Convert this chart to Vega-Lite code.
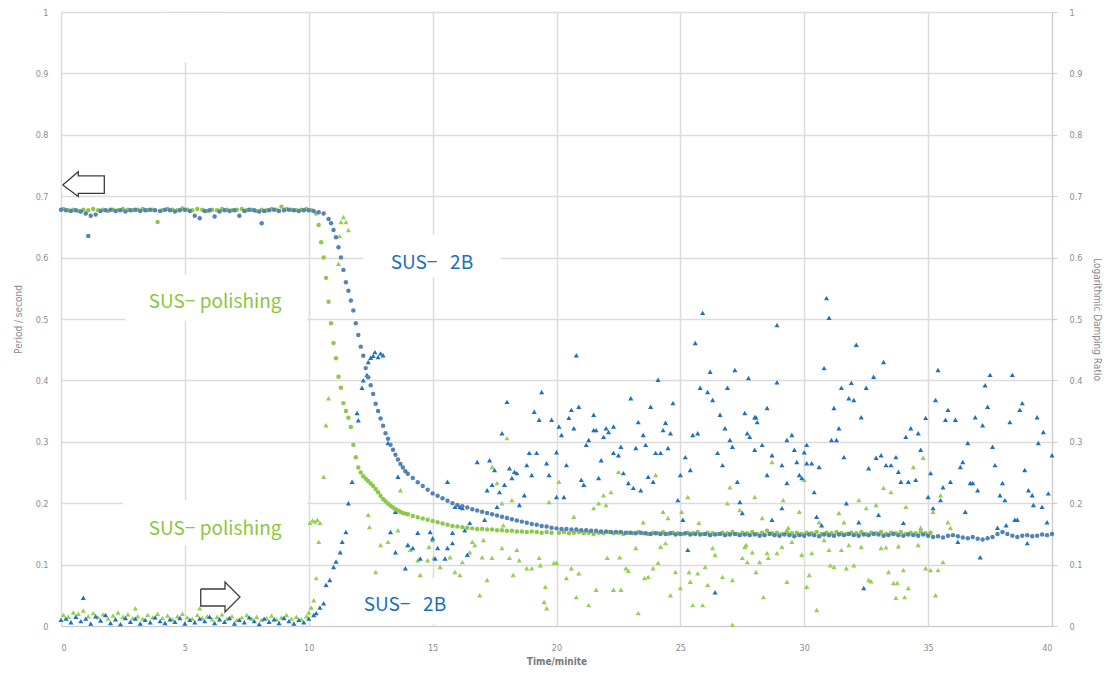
{
"$schema":"https://vega.github.io/schema/vega-lite/v6.json",
"width":991,"height":614,
"autosize":{"type":"none"},
"padding":{"left":61,"top":12,"right":55,"bottom":51},
"background":"white",
"config":{"view":{"stroke":null},"font":"Liberation Sans Narrow, DejaVu Sans Condensed, sans-serif",
"axis":{"labelColor":"#8c8c8c","titleColor":"#8c8c8c","labelFontSize":9,"titleFontSize":10,"titleFontWeight":"normal","gridColor":"#dcdcdc","gridWidth":1.5,"domainColor":"#cccccc","tickColor":"#cccccc"}},
"datasets":{
"p2b":[{"x":0,"y":0.678},{"x":0.2,"y":0.677},{"x":0.4,"y":0.676},{"x":0.6,"y":0.677},{"x":0.8,"y":0.675},{"x":1.0,"y":0.672},{"x":1.1,"y":0.635},{"x":1.2,"y":0.668},{"x":1.4,"y":0.670},{"x":1.6,"y":0.676},{"x":1.8,"y":0.677},{"x":2.0,"y":0.678},{"x":2.2,"y":0.676},{"x":2.4,"y":0.677},{"x":2.6,"y":0.675},{"x":2.8,"y":0.677},{"x":3.0,"y":0.678},{"x":3.2,"y":0.676},{"x":3.4,"y":0.677},{"x":3.6,"y":0.678},{"x":3.8,"y":0.677},{"x":4.0,"y":0.676},{"x":4.2,"y":0.678},{"x":4.4,"y":0.677},{"x":4.6,"y":0.675},{"x":4.8,"y":0.677},{"x":5.0,"y":0.678},{"x":5.2,"y":0.676},{"x":5.4,"y":0.668},{"x":5.6,"y":0.664},{"x":5.8,"y":0.676},{"x":6.0,"y":0.677},{"x":6.2,"y":0.667},{"x":6.4,"y":0.675},{"x":6.6,"y":0.677},{"x":6.8,"y":0.676},{"x":7.0,"y":0.677},{"x":7.2,"y":0.668},{"x":7.4,"y":0.676},{"x":7.6,"y":0.678},{"x":7.8,"y":0.677},{"x":8.0,"y":0.675},{"x":8.1,"y":0.656},{"x":8.2,"y":0.676},{"x":8.4,"y":0.677},{"x":8.6,"y":0.678},{"x":8.8,"y":0.676},{"x":9.0,"y":0.677},{"x":9.2,"y":0.678},{"x":9.4,"y":0.677},{"x":9.6,"y":0.676},{"x":9.8,"y":0.677},{"x":10.0,"y":0.677},{"x":10.2,"y":0.676},{"x":10.4,"y":0.674},{"x":10.6,"y":0.672},{"x":10.8,"y":0.663},{"x":10.9,"y":0.656},{"x":11.0,"y":0.645},{"x":11.1,"y":0.633},{"x":11.2,"y":0.617},{"x":11.3,"y":0.6},{"x":11.4,"y":0.58},{"x":11.5,"y":0.56},{"x":11.6,"y":0.546},{"x":11.7,"y":0.53},{"x":11.8,"y":0.514},{"x":11.9,"y":0.493},{"x":12.0,"y":0.474},{"x":12.1,"y":0.455},{"x":12.2,"y":0.44},{"x":12.3,"y":0.42},{"x":12.4,"y":0.405},{"x":12.5,"y":0.392},{"x":12.6,"y":0.378},{"x":12.7,"y":0.362},{"x":12.8,"y":0.35},{"x":12.9,"y":0.338},{"x":13.0,"y":0.326},{"x":13.1,"y":0.314},{"x":13.2,"y":0.305},{"x":13.3,"y":0.295},{"x":13.4,"y":0.287},{"x":13.5,"y":0.279},{"x":13.6,"y":0.271},{"x":13.7,"y":0.264},{"x":13.8,"y":0.258},{"x":13.9,"y":0.252},{"x":14.0,"y":0.248},{"x":14.2,"y":0.241},{"x":14.4,"y":0.234},{"x":14.6,"y":0.228},{"x":14.8,"y":0.222},{"x":15.0,"y":0.216},{"x":15.2,"y":0.212},{"x":15.4,"y":0.208},{"x":15.6,"y":0.204},{"x":15.8,"y":0.2},{"x":16.0,"y":0.197},{"x":16.2,"y":0.195},{"x":16.4,"y":0.193},{"x":16.6,"y":0.19},{"x":16.8,"y":0.188},{"x":17.0,"y":0.186},{"x":17.2,"y":0.184},{"x":17.4,"y":0.182},{"x":17.6,"y":0.18},{"x":17.8,"y":0.178},{"x":18.0,"y":0.176},{"x":18.2,"y":0.174},{"x":18.4,"y":0.172},{"x":18.6,"y":0.17},{"x":18.8,"y":0.168},{"x":19.0,"y":0.166},{"x":19.2,"y":0.165},{"x":19.4,"y":0.163},{"x":19.6,"y":0.162},{"x":19.8,"y":0.16},{"x":20.0,"y":0.159},{"x":20.2,"y":0.158},{"x":20.4,"y":0.158},{"x":20.6,"y":0.157},{"x":20.8,"y":0.157},{"x":21.0,"y":0.156},{"x":21.2,"y":0.156},{"x":21.4,"y":0.155},{"x":21.6,"y":0.155},{"x":21.8,"y":0.154},{"x":22.0,"y":0.154},{"x":22.2,"y":0.153},{"x":22.4,"y":0.153},{"x":22.6,"y":0.153},{"x":22.8,"y":0.152},{"x":23.0,"y":0.152},{"x":23.2,"y":0.151},{"x":23.4,"y":0.152},{"x":23.6,"y":0.151},{"x":23.8,"y":0.150},{"x":24.0,"y":0.151},{"x":24.2,"y":0.150},{"x":24.4,"y":0.150},{"x":24.6,"y":0.151},{"x":24.8,"y":0.149},{"x":25.0,"y":0.150},{"x":25.2,"y":0.151},{"x":25.4,"y":0.149},{"x":25.6,"y":0.150},{"x":25.8,"y":0.149},{"x":26.0,"y":0.150},{"x":26.2,"y":0.148},{"x":26.4,"y":0.149},{"x":26.6,"y":0.150},{"x":26.8,"y":0.148},{"x":27.0,"y":0.149},{"x":27.2,"y":0.150},{"x":27.4,"y":0.148},{"x":27.6,"y":0.149},{"x":27.8,"y":0.148},{"x":28.0,"y":0.149},{"x":28.2,"y":0.147},{"x":28.4,"y":0.148},{"x":28.6,"y":0.150},{"x":28.8,"y":0.148},{"x":29.0,"y":0.147},{"x":29.2,"y":0.149},{"x":29.4,"y":0.148},{"x":29.6,"y":0.146},{"x":29.8,"y":0.148},{"x":30.0,"y":0.147},{"x":30.2,"y":0.149},{"x":30.4,"y":0.148},{"x":30.6,"y":0.146},{"x":30.8,"y":0.149},{"x":31.0,"y":0.148},{"x":31.2,"y":0.147},{"x":31.4,"y":0.149},{"x":31.6,"y":0.148},{"x":31.8,"y":0.150},{"x":32.0,"y":0.148},{"x":32.2,"y":0.147},{"x":32.4,"y":0.149},{"x":32.6,"y":0.148},{"x":32.8,"y":0.150},{"x":33.0,"y":0.149},{"x":33.2,"y":0.147},{"x":33.4,"y":0.148},{"x":33.6,"y":0.150},{"x":33.8,"y":0.148},{"x":34.0,"y":0.147},{"x":34.2,"y":0.149},{"x":34.4,"y":0.148},{"x":34.6,"y":0.147},{"x":34.8,"y":0.149},{"x":35.0,"y":0.147},{"x":35.2,"y":0.145},{"x":35.4,"y":0.146},{"x":35.6,"y":0.144},{"x":35.8,"y":0.147},{"x":36.0,"y":0.148},{"x":36.2,"y":0.146},{"x":36.4,"y":0.144},{"x":36.6,"y":0.143},{"x":36.8,"y":0.145},{"x":37.0,"y":0.142},{"x":37.2,"y":0.141},{"x":37.4,"y":0.143},{"x":37.6,"y":0.145},{"x":37.8,"y":0.150},{"x":38.0,"y":0.153},{"x":38.2,"y":0.150},{"x":38.4,"y":0.147},{"x":38.6,"y":0.145},{"x":38.8,"y":0.147},{"x":39.0,"y":0.148},{"x":39.2,"y":0.146},{"x":39.4,"y":0.147},{"x":39.6,"y":0.149},{"x":39.8,"y":0.148},{"x":40.0,"y":0.150}],
"ppol":[{"x":0.1,"y":0.679},{"x":0.3,"y":0.677},{"x":0.5,"y":0.678},{"x":0.7,"y":0.676},{"x":0.9,"y":0.678},{"x":1.1,"y":0.677},{"x":1.3,"y":0.679},{"x":1.5,"y":0.677},{"x":1.7,"y":0.678},{"x":1.9,"y":0.676},{"x":2.1,"y":0.678},{"x":2.3,"y":0.677},{"x":2.5,"y":0.679},{"x":2.7,"y":0.678},{"x":2.9,"y":0.677},{"x":3.1,"y":0.678},{"x":3.3,"y":0.679},{"x":3.5,"y":0.677},{"x":3.7,"y":0.678},{"x":3.9,"y":0.658},{"x":4.1,"y":0.677},{"x":4.3,"y":0.679},{"x":4.5,"y":0.678},{"x":4.7,"y":0.677},{"x":4.9,"y":0.680},{"x":5.1,"y":0.678},{"x":5.3,"y":0.677},{"x":5.5,"y":0.679},{"x":5.7,"y":0.678},{"x":5.9,"y":0.676},{"x":6.1,"y":0.678},{"x":6.3,"y":0.677},{"x":6.5,"y":0.679},{"x":6.7,"y":0.678},{"x":6.9,"y":0.677},{"x":7.1,"y":0.678},{"x":7.3,"y":0.679},{"x":7.5,"y":0.677},{"x":7.7,"y":0.678},{"x":7.9,"y":0.676},{"x":8.1,"y":0.678},{"x":8.3,"y":0.677},{"x":8.5,"y":0.679},{"x":8.7,"y":0.678},{"x":8.9,"y":0.683},{"x":9.1,"y":0.679},{"x":9.3,"y":0.678},{"x":9.5,"y":0.677},{"x":9.7,"y":0.678},{"x":9.9,"y":0.679},{"x":10.1,"y":0.677},{"x":10.3,"y":0.672},{"x":10.4,"y":0.653},{"x":10.5,"y":0.625},{"x":10.6,"y":0.600},{"x":10.7,"y":0.567},{"x":10.8,"y":0.528},{"x":10.9,"y":0.493},{"x":11.0,"y":0.461},{"x":11.1,"y":0.436},{"x":11.2,"y":0.406},{"x":11.3,"y":0.388},{"x":11.4,"y":0.363},{"x":11.5,"y":0.350},{"x":11.6,"y":0.339},{"x":11.7,"y":0.324},{"x":11.8,"y":0.295},{"x":11.9,"y":0.275},{"x":12.0,"y":0.258},{"x":12.1,"y":0.250},{"x":12.2,"y":0.244},{"x":12.3,"y":0.240},{"x":12.4,"y":0.236},{"x":12.5,"y":0.232},{"x":12.6,"y":0.228},{"x":12.7,"y":0.223},{"x":12.8,"y":0.218},{"x":12.9,"y":0.212},{"x":13.0,"y":0.207},{"x":13.1,"y":0.203},{"x":13.2,"y":0.199},{"x":13.3,"y":0.196},{"x":13.4,"y":0.193},{"x":13.5,"y":0.190},{"x":13.6,"y":0.188},{"x":13.7,"y":0.186},{"x":13.8,"y":0.184},{"x":13.9,"y":0.183},{"x":14.0,"y":0.182},{"x":14.2,"y":0.179},{"x":14.4,"y":0.177},{"x":14.6,"y":0.175},{"x":14.8,"y":0.173},{"x":15.0,"y":0.171},{"x":15.2,"y":0.169},{"x":15.4,"y":0.167},{"x":15.6,"y":0.165},{"x":15.8,"y":0.163},{"x":16.0,"y":0.162},{"x":16.2,"y":0.161},{"x":16.4,"y":0.160},{"x":16.6,"y":0.159},{"x":16.8,"y":0.158},{"x":17.0,"y":0.158},{"x":17.2,"y":0.157},{"x":17.4,"y":0.157},{"x":17.6,"y":0.156},{"x":17.8,"y":0.156},{"x":18.0,"y":0.155},{"x":18.2,"y":0.155},{"x":18.4,"y":0.154},{"x":18.6,"y":0.154},{"x":18.8,"y":0.153},{"x":19.0,"y":0.154},{"x":19.2,"y":0.153},{"x":19.4,"y":0.152},{"x":19.6,"y":0.153},{"x":19.8,"y":0.152},{"x":20.1,"y":0.152},{"x":20.3,"y":0.153},{"x":20.5,"y":0.151},{"x":20.7,"y":0.152},{"x":20.9,"y":0.153},{"x":21.1,"y":0.151},{"x":21.3,"y":0.152},{"x":21.5,"y":0.150},{"x":21.7,"y":0.152},{"x":21.9,"y":0.151},{"x":22.1,"y":0.153},{"x":22.3,"y":0.151},{"x":22.5,"y":0.152},{"x":22.7,"y":0.150},{"x":22.9,"y":0.152},{"x":23.1,"y":0.151},{"x":23.3,"y":0.153},{"x":23.5,"y":0.151},{"x":23.7,"y":0.150},{"x":23.9,"y":0.152},{"x":24.1,"y":0.151},{"x":24.3,"y":0.153},{"x":24.5,"y":0.150},{"x":24.7,"y":0.152},{"x":24.9,"y":0.151},{"x":25.1,"y":0.150},{"x":25.3,"y":0.152},{"x":25.5,"y":0.151},{"x":25.7,"y":0.153},{"x":25.9,"y":0.150},{"x":26.1,"y":0.152},{"x":26.3,"y":0.151},{"x":26.5,"y":0.150},{"x":26.7,"y":0.152},{"x":26.9,"y":0.151},{"x":27.1,"y":0.153},{"x":27.3,"y":0.150},{"x":27.5,"y":0.152},{"x":27.7,"y":0.151},{"x":27.9,"y":0.153},{"x":28.1,"y":0.150},{"x":28.3,"y":0.152},{"x":28.5,"y":0.155},{"x":28.7,"y":0.151},{"x":28.9,"y":0.152},{"x":29.1,"y":0.150},{"x":29.3,"y":0.153},{"x":29.5,"y":0.151},{"x":29.7,"y":0.152},{"x":29.9,"y":0.150},{"x":30.1,"y":0.152},{"x":30.3,"y":0.151},{"x":30.5,"y":0.153},{"x":30.7,"y":0.150},{"x":30.9,"y":0.152},{"x":31.1,"y":0.151},{"x":31.3,"y":0.153},{"x":31.5,"y":0.151},{"x":31.7,"y":0.150},{"x":31.9,"y":0.152},{"x":32.1,"y":0.151},{"x":32.3,"y":0.153},{"x":32.5,"y":0.150},{"x":32.7,"y":0.152},{"x":32.9,"y":0.151},{"x":33.1,"y":0.153},{"x":33.3,"y":0.150},{"x":33.5,"y":0.152},{"x":33.7,"y":0.151},{"x":33.9,"y":0.153},{"x":34.1,"y":0.150},{"x":34.3,"y":0.152},{"x":34.5,"y":0.151},{"x":34.7,"y":0.153},{"x":34.9,"y":0.151},{"x":35.1,"y":0.152}],
"d2b":[{"x":0.0,"y":0.010},{"x":0.2,"y":0.012},{"x":0.4,"y":0.006},{"x":0.6,"y":0.015},{"x":0.8,"y":0.008},{"x":0.9,"y":0.046},{"x":1.0,"y":0.012},{"x":1.2,"y":0.004},{"x":1.4,"y":0.016},{"x":1.6,"y":0.009},{"x":1.8,"y":0.018},{"x":2.0,"y":0.005},{"x":2.2,"y":0.011},{"x":2.4,"y":0.003},{"x":2.6,"y":0.013},{"x":2.8,"y":0.007},{"x":3.0,"y":0.012},{"x":3.2,"y":0.004},{"x":3.4,"y":0.010},{"x":3.6,"y":0.006},{"x":3.8,"y":0.014},{"x":4.0,"y":0.008},{"x":4.2,"y":0.005},{"x":4.4,"y":0.011},{"x":4.6,"y":0.007},{"x":4.8,"y":0.013},{"x":5.0,"y":0.004},{"x":5.2,"y":0.010},{"x":5.4,"y":0.006},{"x":5.6,"y":0.012},{"x":5.8,"y":0.008},{"x":6.0,"y":0.015},{"x":6.2,"y":0.005},{"x":6.4,"y":0.011},{"x":6.6,"y":0.007},{"x":6.8,"y":0.013},{"x":7.0,"y":0.004},{"x":7.2,"y":0.010},{"x":7.4,"y":0.006},{"x":7.6,"y":0.014},{"x":7.8,"y":0.008},{"x":8.0,"y":0.003},{"x":8.2,"y":0.012},{"x":8.4,"y":0.007},{"x":8.6,"y":0.011},{"x":8.8,"y":0.005},{"x":9.0,"y":0.013},{"x":9.2,"y":0.008},{"x":9.4,"y":0.004},{"x":9.6,"y":0.010},{"x":9.8,"y":0.006},{"x":10.0,"y":0.012},{"x":10.2,"y":0.018},{"x":10.3,"y":0.021},{"x":10.45,"y":0.03},{"x":10.6,"y":0.037},{"x":10.7,"y":0.067},{"x":10.85,"y":0.075},{"x":11.0,"y":0.096},{"x":11.1,"y":0.105},{"x":11.27,"y":0.12},{"x":11.35,"y":0.137},{"x":11.5,"y":0.153},{"x":11.6,"y":0.2},{"x":11.75,"y":0.235},{"x":11.95,"y":0.347},{"x":12.0,"y":0.335},{"x":12.15,"y":0.388},{"x":12.2,"y":0.40},{"x":12.35,"y":0.409},{"x":12.4,"y":0.43},{"x":12.5,"y":0.437},{"x":12.6,"y":0.44},{"x":12.67,"y":0.446},{"x":12.8,"y":0.438},{"x":12.9,"y":0.444},{"x":13.0,"y":0.441},{"x":13.2,"y":0.298},{"x":13.3,"y":0.153},{"x":13.5,"y":0.12},{"x":13.5,"y":0.186},{"x":13.6,"y":0.243},{"x":13.9,"y":0.094},{"x":14.0,"y":0.132},{"x":14.2,"y":0.127},{"x":14.4,"y":0.152},{"x":14.5,"y":0.11},{"x":14.9,"y":0.153},{"x":15.0,"y":0.143},{"x":15.1,"y":0.11},{"x":15.2,"y":0.127},{"x":15.5,"y":0.11},{"x":15.6,"y":0.127},{"x":15.6,"y":0.235},{"x":15.8,"y":0.152},{"x":15.8,"y":0.135},{"x":15.9,"y":0.194},{"x":16.1,"y":0.194},{"x":16.2,"y":0.192},{"x":16.3,"y":0.156},{"x":16.4,"y":0.116},{"x":16.5,"y":0.168},{"x":16.8,"y":0.267},{"x":17.1,"y":0.173},{"x":17.2,"y":0.221},{"x":17.3,"y":0.27},{"x":17.4,"y":0.23},{"x":17.5,"y":0.254},{"x":17.6,"y":0.194},{"x":17.7,"y":0.218},{"x":17.8,"y":0.314},{"x":17.9,"y":0.23},{"x":18.0,"y":0.365},{"x":18.1,"y":0.257},{"x":18.2,"y":0.241},{"x":18.3,"y":0.251},{"x":18.4,"y":0.249},{"x":18.5,"y":0.197},{"x":18.7,"y":0.213},{"x":18.8,"y":0.262},{"x":18.9,"y":0.282},{"x":19.0,"y":0.246},{"x":19.1,"y":0.349},{"x":19.2,"y":0.282},{"x":19.3,"y":0.336},{"x":19.4,"y":0.381},{"x":19.6,"y":0.265},{"x":19.7,"y":0.246},{"x":19.8,"y":0.336},{"x":20.0,"y":0.283},{"x":20.0,"y":0.21},{"x":20.1,"y":0.325},{"x":20.2,"y":0.311},{"x":20.3,"y":0.21},{"x":20.4,"y":0.262},{"x":20.5,"y":0.339},{"x":20.6,"y":0.352},{"x":20.7,"y":0.322},{"x":20.8,"y":0.441},{"x":20.9,"y":0.357},{"x":21.0,"y":0.238},{"x":21.1,"y":0.23},{"x":21.2,"y":0.295},{"x":21.3,"y":0.303},{"x":21.5,"y":0.344},{"x":21.5,"y":0.319},{"x":21.6,"y":0.319},{"x":21.7,"y":0.241},{"x":21.8,"y":0.27},{"x":21.9,"y":0.308},{"x":22.0,"y":0.322},{"x":22.1,"y":0.316},{"x":22.3,"y":0.325},{"x":22.3,"y":0.282},{"x":22.5,"y":0.278},{"x":22.6,"y":0.292},{"x":22.7,"y":0.249},{"x":22.9,"y":0.233},{"x":23.0,"y":0.371},{"x":23.1,"y":0.225},{"x":23.2,"y":0.29},{"x":23.3,"y":0.332},{"x":23.4,"y":0.221},{"x":23.5,"y":0.311},{"x":23.6,"y":0.295},{"x":23.7,"y":0.243},{"x":23.8,"y":0.357},{"x":23.9,"y":0.235},{"x":24.0,"y":0.282},{"x":24.1,"y":0.401},{"x":24.2,"y":0.282},{"x":24.3,"y":0.319},{"x":24.4,"y":0.331},{"x":24.5,"y":0.29},{"x":24.6,"y":0.314},{"x":24.7,"y":0.363},{"x":24.9,"y":0.205},{"x":25.0,"y":0.246},{"x":25.1,"y":0.173},{"x":25.2,"y":0.275},{"x":25.3,"y":0.124},{"x":25.4,"y":0.254},{"x":25.5,"y":0.311},{"x":25.6,"y":0.461},{"x":25.7,"y":0.314},{"x":25.8,"y":0.388},{"x":25.9,"y":0.51},{"x":26.1,"y":0.381},{"x":26.2,"y":0.414},{"x":26.3,"y":0.368},{"x":26.4,"y":0.055},{"x":26.5,"y":0.282},{"x":26.6,"y":0.344},{"x":26.7,"y":0.262},{"x":26.8,"y":0.322},{"x":26.9,"y":0.388},{"x":27.0,"y":0.303},{"x":27.1,"y":0.292},{"x":27.2,"y":0.417},{"x":27.3,"y":0.235},{"x":27.4,"y":0.202},{"x":27.5,"y":0.184},{"x":27.6,"y":0.347},{"x":27.7,"y":0.314},{"x":27.75,"y":0.404},{"x":27.8,"y":0.308},{"x":28.0,"y":0.34},{"x":28.05,"y":0.34},{"x":28.1,"y":0.332},{"x":28.0,"y":0.287},{"x":28.3,"y":0.295},{"x":28.5,"y":0.355},{"x":28.5,"y":0.246},{"x":28.7,"y":0.173},{"x":28.7,"y":0.278},{"x":28.9,"y":0.397},{"x":28.9,"y":0.49},{"x":29.1,"y":0.192},{"x":29.1,"y":0.262},{"x":29.3,"y":0.233},{"x":29.3,"y":0.303},{"x":29.5,"y":0.311},{"x":29.6,"y":0.287},{"x":29.7,"y":0.267},{"x":29.8,"y":0.246},{"x":29.9,"y":0.241},{"x":30.0,"y":0.283},{"x":30.1,"y":0.295},{"x":30.1,"y":0.265},{"x":30.3,"y":0.265},{"x":30.4,"y":0.218},{"x":30.5,"y":0.178},{"x":30.6,"y":0.259},{"x":30.7,"y":0.164},{"x":30.8,"y":0.42},{"x":30.9,"y":0.534},{"x":31.0,"y":0.502},{"x":31.1,"y":0.303},{"x":31.2,"y":0.355},{"x":31.3,"y":0.303},{"x":31.4,"y":0.322},{"x":31.5,"y":0.388},{"x":31.6,"y":0.275},{"x":31.7,"y":0.2},{"x":31.8,"y":0.371},{"x":31.9,"y":0.396},{"x":32.0,"y":0.368},{"x":32.1,"y":0.458},{"x":32.2,"y":0.169},{"x":32.3,"y":0.34},{"x":32.4,"y":0.062},{"x":32.5,"y":0.388},{"x":32.6,"y":0.257},{"x":32.8,"y":0.406},{"x":32.9,"y":0.274},{"x":33.0,"y":0.181},{"x":33.1,"y":0.278},{"x":33.2,"y":0.43},{"x":33.3,"y":0.262},{"x":33.5,"y":0.262},{"x":33.7,"y":0.275},{"x":33.8,"y":0.251},{"x":33.9,"y":0.235},{"x":34.0,"y":0.168},{"x":34.1,"y":0.308},{"x":34.2,"y":0.235},{"x":34.3,"y":0.322},{"x":34.5,"y":0.238},{"x":34.6,"y":0.314},{"x":34.7,"y":0.287},{"x":34.9,"y":0.339},{"x":35.0,"y":0.21},{"x":35.1,"y":0.249},{"x":35.2,"y":0.192},{"x":35.3,"y":0.368},{"x":35.4,"y":0.417},{"x":35.5,"y":0.205},{"x":35.6,"y":0.226},{"x":35.7,"y":0.336},{"x":35.8,"y":0.352},{"x":35.9,"y":0.235},{"x":36.1,"y":0.336},{"x":36.2,"y":0.137},{"x":36.3,"y":0.259},{"x":36.4,"y":0.267},{"x":36.5,"y":0.186},{"x":36.6,"y":0.298},{"x":36.7,"y":0.233},{"x":36.8,"y":0.233},{"x":36.9,"y":0.34},{"x":37.0,"y":0.221},{"x":37.1,"y":0.112},{"x":37.2,"y":0.327},{"x":37.3,"y":0.392},{"x":37.4,"y":0.357},{"x":37.5,"y":0.409},{"x":37.6,"y":0.292},{"x":37.7,"y":0.262},{"x":37.8,"y":0.16},{"x":37.9,"y":0.213},{"x":38.0,"y":0.233},{"x":38.1,"y":0.205},{"x":38.15,"y":0.164},{"x":38.3,"y":0.332},{"x":38.4,"y":0.409},{"x":38.5,"y":0.173},{"x":38.6,"y":0.173},{"x":38.7,"y":0.352},{"x":38.8,"y":0.363},{"x":38.9,"y":0.254},{"x":39.0,"y":0.135},{"x":39.05,"y":0.221},{"x":39.2,"y":0.213},{"x":39.25,"y":0.197},{"x":39.4,"y":0.34},{"x":39.45,"y":0.298},{"x":39.6,"y":0.194},{"x":39.65,"y":0.316},{"x":39.8,"y":0.169},{"x":39.85,"y":0.216},{"x":40.0,"y":0.278}],
"dpol":[{"x":0.1,"y":0.018},{"x":0.3,"y":0.015},{"x":0.5,"y":0.022},{"x":0.7,"y":0.02},{"x":0.9,"y":0.025},{"x":1.1,"y":0.016},{"x":1.3,"y":0.021},{"x":1.5,"y":0.014},{"x":1.7,"y":0.019},{"x":1.9,"y":0.012},{"x":2.1,"y":0.017},{"x":2.3,"y":0.022},{"x":2.5,"y":0.015},{"x":2.7,"y":0.019},{"x":2.9,"y":0.013},{"x":3.0,"y":0.029},{"x":3.1,"y":0.016},{"x":3.3,"y":0.012},{"x":3.5,"y":0.018},{"x":3.7,"y":0.014},{"x":3.9,"y":0.02},{"x":4.1,"y":0.013},{"x":4.3,"y":0.017},{"x":4.5,"y":0.011},{"x":4.7,"y":0.016},{"x":4.9,"y":0.02},{"x":5.1,"y":0.014},{"x":5.3,"y":0.012},{"x":5.5,"y":0.018},{"x":5.6,"y":0.029},{"x":5.7,"y":0.013},{"x":5.9,"y":0.016},{"x":6.1,"y":0.011},{"x":6.3,"y":0.015},{"x":6.5,"y":0.019},{"x":6.7,"y":0.012},{"x":6.9,"y":0.016},{"x":7.1,"y":0.01},{"x":7.3,"y":0.014},{"x":7.5,"y":0.018},{"x":7.7,"y":0.012},{"x":7.9,"y":0.015},{"x":8.1,"y":0.01},{"x":8.3,"y":0.013},{"x":8.5,"y":0.017},{"x":8.7,"y":0.011},{"x":8.9,"y":0.014},{"x":9.1,"y":0.018},{"x":9.3,"y":0.012},{"x":9.5,"y":0.015},{"x":9.7,"y":0.011},{"x":9.9,"y":0.016},{"x":10.0,"y":0.022},{"x":10.1,"y":0.03},{"x":10.2,"y":0.042},{"x":10.3,"y":0.078},{"x":10.4,"y":0.137},{"x":10.05,"y":0.168},{"x":10.15,"y":0.172},{"x":10.25,"y":0.17},{"x":10.35,"y":0.173},{"x":10.45,"y":0.168},{"x":10.6,"y":0.243},{"x":10.7,"y":0.327},{"x":10.8,"y":0.371},{"x":11.2,"y":0.59},{"x":11.25,"y":0.635},{"x":11.3,"y":0.658},{"x":11.4,"y":0.666},{"x":11.5,"y":0.658},{"x":11.6,"y":0.645},{"x":12.4,"y":0.181},{"x":12.45,"y":0.161},{"x":12.7,"y":0.088},{"x":12.9,"y":0.132},{"x":13.2,"y":0.137},{"x":13.6,"y":0.156},{"x":13.7,"y":0.221},{"x":14.0,"y":0.132},{"x":14.1,"y":0.124},{"x":14.4,"y":0.107},{"x":14.5,"y":0.083},{"x":14.8,"y":0.107},{"x":14.85,"y":0.129},{"x":15.0,"y":0.14},{"x":15.05,"y":0.111},{"x":15.3,"y":0.096},{"x":15.7,"y":0.112},{"x":15.9,"y":0.088},{"x":16.1,"y":0.083},{"x":16.2,"y":0.104},{"x":16.5,"y":0.12},{"x":16.6,"y":0.137},{"x":16.7,"y":0.132},{"x":16.9,"y":0.05},{"x":17.0,"y":0.112},{"x":17.05,"y":0.14},{"x":17.2,"y":0.075},{"x":17.4,"y":0.111},{"x":17.4,"y":0.259},{"x":17.6,"y":0.233},{"x":17.8,"y":0.2},{"x":17.8,"y":0.127},{"x":17.85,"y":0.164},{"x":18.0,"y":0.306},{"x":18.1,"y":0.111},{"x":18.2,"y":0.205},{"x":18.25,"y":0.083},{"x":18.4,"y":0.124},{"x":18.5,"y":0.107},{"x":18.8,"y":0.094},{"x":19.0,"y":0.094},{"x":19.3,"y":0.111},{"x":19.35,"y":0.099},{"x":19.5,"y":0.039},{"x":19.55,"y":0.064},{"x":19.6,"y":0.029},{"x":19.7,"y":0.202},{"x":19.9,"y":0.103},{"x":20.0,"y":0.103},{"x":20.1,"y":0.235},{"x":20.4,"y":0.078},{"x":20.6,"y":0.094},{"x":20.7,"y":0.178},{"x":20.8,"y":0.047},{"x":20.9,"y":0.086},{"x":21.3,"y":0.034},{"x":21.5,"y":0.192},{"x":21.6,"y":0.059},{"x":21.7,"y":0.2},{"x":21.9,"y":0.213},{"x":22.0,"y":0.197},{"x":22.05,"y":0.111},{"x":22.2,"y":0.218},{"x":22.3,"y":0.059},{"x":22.5,"y":0.251},{"x":22.55,"y":0.112},{"x":22.6,"y":0.059},{"x":22.8,"y":0.094},{"x":22.9,"y":0.09},{"x":23.2,"y":0.127},{"x":23.3,"y":0.021},{"x":23.5,"y":0.169},{"x":23.55,"y":0.078},{"x":23.7,"y":0.08},{"x":23.9,"y":0.094},{"x":24.0,"y":0.246},{"x":24.1,"y":0.103},{"x":24.2,"y":0.129},{"x":24.3,"y":0.186},{"x":24.4,"y":0.135},{"x":24.5,"y":0.176},{"x":24.6,"y":0.05},{"x":24.8,"y":0.088},{"x":25.0,"y":0.062},{"x":25.05,"y":0.186},{"x":25.3,"y":0.21},{"x":25.35,"y":0.088},{"x":25.4,"y":0.072},{"x":25.5,"y":0.034},{"x":25.7,"y":0.086},{"x":25.75,"y":0.168},{"x":25.9,"y":0.034},{"x":26.0,"y":0.096},{"x":26.1,"y":0.067},{"x":26.3,"y":0.127},{"x":26.4,"y":0.116},{"x":26.7,"y":0.08},{"x":26.9,"y":0.2},{"x":27.0,"y":0.226},{"x":27.1,"y":0.075},{"x":27.1,"y":0.002},{"x":27.4,"y":0.189},{"x":27.5,"y":0.111},{"x":27.6,"y":0.129},{"x":27.65,"y":0.132},{"x":27.7,"y":0.104},{"x":27.9,"y":0.12},{"x":28.0,"y":0.21},{"x":28.05,"y":0.088},{"x":28.2,"y":0.104},{"x":28.3,"y":0.176},{"x":28.35,"y":0.047},{"x":28.5,"y":0.119},{"x":28.55,"y":0.111},{"x":28.7,"y":0.267},{"x":28.9,"y":0.119},{"x":29.1,"y":0.129},{"x":29.15,"y":0.205},{"x":29.3,"y":0.072},{"x":29.35,"y":0.16},{"x":29.5,"y":0.137},{"x":29.8,"y":0.186},{"x":29.9,"y":0.116},{"x":30.0,"y":0.238},{"x":30.1,"y":0.064},{"x":30.2,"y":0.083},{"x":30.3,"y":0.119},{"x":30.5,"y":0.026},{"x":30.6,"y":0.169},{"x":30.8,"y":0.14},{"x":31.0,"y":0.124},{"x":31.05,"y":0.099},{"x":31.2,"y":0.096},{"x":31.4,"y":0.184},{"x":31.5,"y":0.124},{"x":31.6,"y":0.169},{"x":31.7,"y":0.094},{"x":31.8,"y":0.132},{"x":32.0,"y":0.099},{"x":32.2,"y":0.205},{"x":32.3,"y":0.129},{"x":32.5,"y":0.192},{"x":32.6,"y":0.075},{"x":32.7,"y":0.073},{"x":32.9,"y":0.197},{"x":33.1,"y":0.127},{"x":33.2,"y":0.225},{"x":33.3,"y":0.128},{"x":33.4,"y":0.088},{"x":33.5,"y":0.218},{"x":33.6,"y":0.07},{"x":33.7,"y":0.046},{"x":33.75,"y":0.07},{"x":33.8,"y":0.13},{"x":34.0,"y":0.091},{"x":34.05,"y":0.047},{"x":34.1,"y":0.194},{"x":34.2,"y":0.062},{"x":34.4,"y":0.259},{"x":34.6,"y":0.132},{"x":34.7,"y":0.16},{"x":34.8,"y":0.274},{"x":34.9,"y":0.094},{"x":35.1,"y":0.091},{"x":35.2,"y":0.186},{"x":35.3,"y":0.05},{"x":35.4,"y":0.091},{"x":35.5,"y":0.213},{"x":35.6,"y":0.104},{"x":35.8,"y":0.169},{"x":35.9,"y":0.16}],
"boxes":[{"x":12.2,"x2":17.75,"y":0.567,"y2":0.637},{"x":2.58,"x2":9.93,"y":0.497,"y2":0.572},{"x":2.5,"x2":9.93,"y":0.132,"y2":0.205},{"x":11.2,"x2":16.3,"y":0.003,"y2":0.078},{"x":4.2,"x2":6.5,"y":0.918,"y2":0.998}],
"lab2b":[{"x":14.97,"y":0.591,"t":"SUS−\u00a0\u00a0 2B"},{"x":13.88,"y":0.034,"t":"SUS−\u00a0\u00a0 2B"}],
"labpol":[{"x":6.22,"y":0.528,"t":"SUS− polishing"},{"x":6.22,"y":0.158,"t":"SUS− polishing"}],
"arrows":[{"a":"L","i":0,"x":0.069,"y":0.7182},{"a":"L","i":1,"x":0.698,"y":0.740},{"a":"L","i":2,"x":0.698,"y":0.733},{"a":"L","i":3,"x":1.748,"y":0.733},{"a":"L","i":4,"x":1.748,"y":0.7047},{"a":"L","i":5,"x":0.698,"y":0.7047},{"a":"L","i":6,"x":0.698,"y":0.6995},{"a":"L","i":7,"x":0.069,"y":0.7182},{"a":"R","i":0,"x":5.64,"y":0.0603},{"a":"R","i":1,"x":6.62,"y":0.0603},{"a":"R","i":2,"x":6.62,"y":0.0717},{"a":"R","i":3,"x":7.225,"y":0.0472},{"a":"R","i":4,"x":6.62,"y":0.0228},{"a":"R","i":5,"x":6.62,"y":0.0326},{"a":"R","i":6,"x":5.64,"y":0.0326},{"a":"R","i":7,"x":5.64,"y":0.0603}]
},
"encoding":{"x":{"field":"x","type":"quantitative","scale":{"domain":[0,40],"nice":false,"zero":false},"axis":{"values":[0,5,10,15,20,25,30,35,40],"title":"Time/minite","titleFontWeight":"bold","titleColor":"#7a7a7a","grid":true,"ticks":false,"domain":true,"labelPadding":17,"titlePadding":4}}},
"layer":[
{"encoding":{"y":{"field":"y","type":"quantitative","scale":{"domain":[0,1],"nice":false,"zero":false},"axis":{"orient":"right","values":[0,0.1,0.2,0.3,0.4,0.5,0.6,0.7,0.8,0.9,1],"format":"~g","grid":false,"ticks":true,"tickSize":5,"domain":true,"labelPadding":12,"title":"Logarithmic Damping Ratio","titlePadding":10}}},
"layer":[
{"data":{"name":"dpol"},"mark":{"type":"point","shape":"triangle-up","filled":true,"size":26,"color":"#92d050","opacity":1}},
{"data":{"name":"d2b"},"mark":{"type":"point","shape":"triangle-up","filled":true,"size":26,"color":"#1f70c1","opacity":1}}
]},
{"encoding":{"y":{"field":"y","type":"quantitative","scale":{"domain":[0,1],"nice":false,"zero":false},"axis":{"orient":"left","values":[0,0.1,0.2,0.3,0.4,0.5,0.6,0.7,0.8,0.9,1],"format":"~g","grid":true,"ticks":false,"domain":false,"labelPadding":13,"title":"Period / second","titlePadding":12}}},
"layer":[
{"data":{"name":"boxes"},"mark":{"type":"rect","fill":"white"},"encoding":{"x2":{"field":"x2"},"y2":{"field":"y2"}}},
{"data":{"name":"ppol"},"mark":{"type":"circle","size":20,"color":"#8dc84a","opacity":1}},
{"data":{"name":"p2b"},"mark":{"type":"circle","size":20,"color":"#5483b8","opacity":1}},
{"data":{"name":"arrows"},"mark":{"type":"line","color":"#3c3c3c","strokeWidth":1.3},"encoding":{"order":{"field":"i","type":"quantitative"},"detail":{"field":"a"}}},
{"data":{"name":"lab2b"},"mark":{"type":"text","font":"Noto Sans CJK JP","fontSize":19,"color":"#1b6ec2","align":"center","baseline":"middle"},"encoding":{"text":{"field":"t"}}},
{"data":{"name":"labpol"},"mark":{"type":"text","font":"Noto Sans CJK JP","fontSize":19,"color":"#8cc63f","align":"center","baseline":"middle"},"encoding":{"text":{"field":"t"}}}
]}
],
"resolve":{"scale":{"y":"independent"}}
}
